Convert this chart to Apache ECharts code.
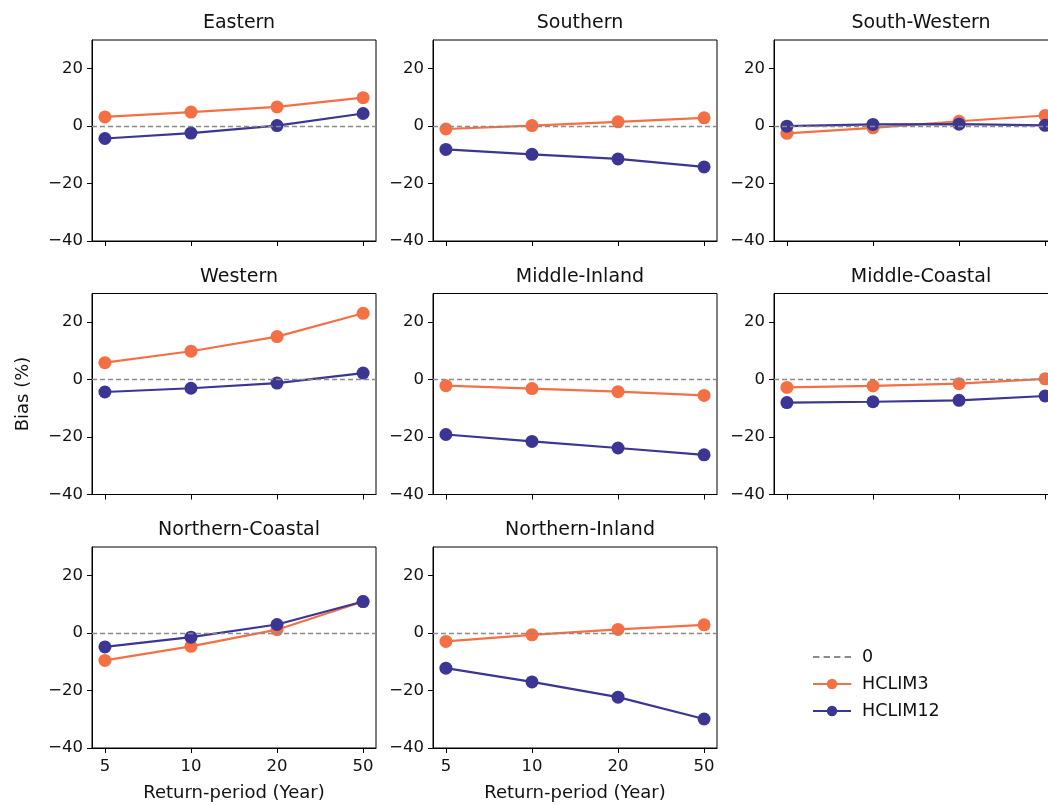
<!DOCTYPE html>
<html>
<head>
<meta charset="utf-8">
<title>Bias by return period</title>
<script src="https://cdn.jsdelivr.net/npm/echarts@6/dist/echarts.min.js"></script>
<style>
  html, body { margin: 0; padding: 0; background: #fff; overflow: hidden; width: 1048px; height: 805px; }
  #chart { width: 1080px; height: 805px; }
</style>
</head>
<body>
<div id="chart"></div>
<script>
// Return periods (years), plotted at evenly spaced positions
const returnPeriods = ['5', '10', '20', '50'];

// Region names, one panel each
const regions = ['Eastern', 'Southern', 'South-Western', 'Western',
  'Middle-Inland', 'Middle-Coastal', 'Northern-Coastal', 'Northern-Inland'];

// Bias (%) for the HCLIM3 run, per region
const hclim3Eastern = [3.2, 4.9, 6.7, 9.9];
const hclim3Southern = [-1.0, 0.2, 1.5, 2.9];
const hclim3SouthWestern = [-2.5, -0.6, 1.7, 3.7];
const hclim3Western = [5.9, 9.9, 15.0, 23.1];
const hclim3MiddleInland = [-2.1, -3.1, -4.2, -5.5];
const hclim3MiddleCoastal = [-2.7, -2.2, -1.4, 0.3];
const hclim3NorthernCoastal = [-9.5, -4.6, 1.2, 11.0];
const hclim3NorthernInland = [-2.9, -0.6, 1.3, 2.9];

// Bias (%) for the HCLIM12 run, per region
const hclim12Eastern = [-4.3, -2.4, 0.2, 4.4];
const hclim12Southern = [-8.1, -9.8, -11.4, -14.2];
const hclim12SouthWestern = [0.0, 0.6, 0.7, 0.3];
const hclim12Western = [-4.3, -3.0, -1.2, 2.3];
const hclim12MiddleInland = [-19.1, -21.5, -23.8, -26.2];
const hclim12MiddleCoastal = [-8.0, -7.7, -7.2, -5.7];
const hclim12NorthernCoastal = [-4.8, -1.4, 3.0, 11.0];
const hclim12NorthernInland = [-12.2, -17.0, -22.3, -29.9];

// Y tick values
const yTicks = [-40, -20, 0, 20];

const hclim3 = [hclim3Eastern, hclim3Southern, hclim3SouthWestern, hclim3Western,
  hclim3MiddleInland, hclim3MiddleCoastal, hclim3NorthernCoastal, hclim3NorthernInland];
const hclim12 = [hclim12Eastern, hclim12Southern, hclim12SouthWestern, hclim12Western,
  hclim12MiddleInland, hclim12MiddleCoastal, hclim12NorthernCoastal, hclim12NorthernInland];

const ORANGE = '#f47044';
const PURPLE = '#3b3594';
const ZERO = '#8a8a8a';
const FONT = 'DejaVu Sans';

// dashed swatch for the zero-line legend entry
const DASH_ICON = 'path://M0,0h6v2h-6z M10,0h6v2h-6z M20,0h6v2h-6z M30,0h6v2h-6z';

const colLeft = [92, 433, 774];
const rowTop = [40, 293.5, 547];
const panelW = 284;
const panelH = 201;

const grids = [], xAxes = [], yAxes = [], series = [], titles = [];

regions.forEach((name, i) => {
  const r = Math.floor(i / 3), c = i % 3;
  grids.push({
    left: colLeft[c], top: rowTop[r], width: panelW, height: panelH,
    show: true, borderColor: '#000', borderWidth: 1, backgroundColor: 'transparent'
  });
  titles.push({
    text: name,
    left: colLeft[c] + panelW / 2, top: rowTop[r] - 31,
    textAlign: 'center',
    textStyle: { fontFamily: FONT, fontSize: 19, fontWeight: 'normal', color: '#111' }
  });
  xAxes.push({
    type: 'value', gridIndex: i, min: -0.15, max: 3.15,
    splitLine: { show: false },
    axisLine: { show: true, onZero: false, lineStyle: { color: '#000', width: 1 } },
    axisTick: { show: true, length: 5, customValues: [0, 1, 2, 3], lineStyle: { color: '#000' } },
    axisLabel: {
      show: r === 2, customValues: [0, 1, 2, 3], margin: 10,
      formatter: v => returnPeriods[Math.round(v)],
      fontFamily: FONT, fontSize: 16.5, color: '#111'
    },
    name: r === 2 ? 'Return-period (Year)' : '',
    nameLocation: 'middle', nameGap: 36,
    nameTextStyle: { fontFamily: FONT, fontSize: 18, color: '#111' }
  });
  yAxes.push({
    type: 'value', gridIndex: i, min: -40, max: 30,
    splitLine: { show: false },
    axisLine: { show: true, onZero: false, lineStyle: { color: '#000', width: 1 } },
    axisTick: { show: true, length: 5, customValues: yTicks, lineStyle: { color: '#000' } },
    axisLabel: {
      customValues: yTicks, margin: 9,
      formatter: v => String(v).replace('-', '\u2212'),
      fontFamily: FONT, fontSize: 16.5, color: '#111'
    },
    name: i === 3 ? 'Bias (%)' : '',
    nameLocation: 'middle', nameGap: 60, nameRotate: 90,
    nameTextStyle: { fontFamily: FONT, fontSize: 18, color: '#111' }
  });

  // zero reference line across the panel
  series.push({
    name: '0', type: 'line', xAxisIndex: i, yAxisIndex: i,
    data: [], symbol: 'none', silent: true,
    lineStyle: { color: ZERO, width: 1.3, type: [5, 3] },
    itemStyle: { color: ZERO },
    markLine: {
      silent: true, symbol: 'none', label: { show: false },
      lineStyle: { color: ZERO, width: 1.3, type: [5, 3] },
      data: [{ yAxis: 0 }]
    },
    z: 1
  });
  series.push({
    name: 'HCLIM3', type: 'line', xAxisIndex: i, yAxisIndex: i,
    data: hclim3[i].map((v, k) => [k, v]),
    symbol: 'circle', symbolSize: 13,
    lineStyle: { color: ORANGE, width: 2.2 }, itemStyle: { color: ORANGE },
    z: 2
  });
  series.push({
    name: 'HCLIM12', type: 'line', xAxisIndex: i, yAxisIndex: i,
    data: hclim12[i].map((v, k) => [k, v]),
    symbol: 'circle', symbolSize: 13,
    lineStyle: { color: PURPLE, width: 2.2 }, itemStyle: { color: PURPLE },
    z: 3
  });
});

const chart = echarts.init(document.getElementById('chart'), null, { renderer: 'canvas' });
chart.setOption({
  animation: false,
  backgroundColor: '#fff',
  title: titles,
  grid: grids,
  xAxis: xAxes,
  yAxis: yAxes,
  series: series,
  legend: {
    data: [
      { name: '0', icon: DASH_ICON, itemStyle: { color: ZERO } },
      'HCLIM3',
      'HCLIM12'
    ],
    orient: 'vertical',
    left: 807, top: 643,
    itemWidth: 38, itemHeight: 13, itemGap: 9,
    selectedMode: false,
    textStyle: { fontFamily: FONT, fontSize: 17.5, color: '#111', padding: [0, 0, 0, 6] }
  }
});
</script>
</body>
</html>
